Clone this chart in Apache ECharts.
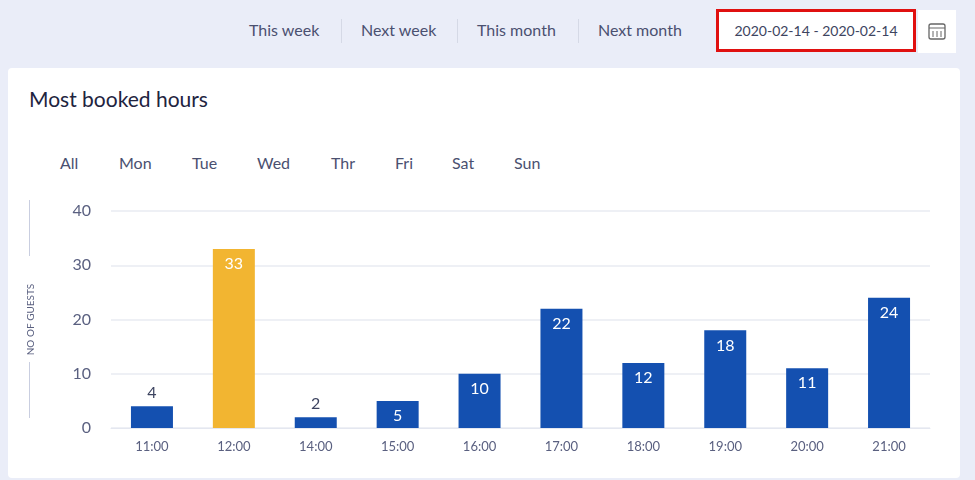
<!DOCTYPE html>
<html>
<head>
<meta charset="utf-8">
<script src="https://cdn.jsdelivr.net/npm/echarts@6/dist/echarts.min.js"></script>
<style>
  body { margin: 0; width: 975px; height: 480px; background: #eaedf8; font-family: Lato, "Noto Sans", sans-serif; color: #3d4460; position: relative; overflow: hidden; }
  .top { position: absolute; top: 20px; font-size: 16px; color: #4a5070; }
  .sep { position: absolute; top: 19px; width: 1px; height: 24px; background: #d5d9e6; }
  .datebox { position: absolute; left: 716px; top: 9px; width: 200px; height: 43px; border: 3px solid #e01010; box-sizing: border-box; background: #fff; font-size: 14px; text-align: center; line-height: 37px; color: #3d4460; }
  .cal { position: absolute; left: 918px; top: 10px; width: 38px; height: 43px; background: #fff; }
  .card { position: absolute; left: 8px; top: 68px; width: 952px; height: 410px; background: #fff; border-radius: 4px; }
  .title { position: absolute; left: 29px; top: 86px; font-size: 21px; color: #1e2440; }
  .day { position: absolute; top: 153px; font-size: 16px; color: #4a5070; }
  .vline { position: absolute; left: 29px; width: 1px; background: #c9cee0; }
  #chart { position: absolute; left: 0; top: 190px; width: 975px; height: 280px; }
</style>
</head>
<body>
<div class="top" style="left:249px">This week</div>
<div class="sep" style="left:341px"></div>
<div class="top" style="left:361px">Next week</div>
<div class="sep" style="left:457px"></div>
<div class="top" style="left:477px">This month</div>
<div class="sep" style="left:578px"></div>
<div class="top" style="left:598px">Next month</div>
<div class="datebox">2020-02-14 - 2020-02-14</div>
<div class="cal"><svg width="38" height="43"><rect x="11" y="14" width="16" height="15" rx="2" fill="none" stroke="#666" stroke-width="1.3"/><line x1="11" y1="18" x2="27" y2="18" stroke="#666"/><line x1="15" y1="21" x2="15" y2="27" stroke="#666"/><line x1="19" y1="21" x2="19" y2="27" stroke="#666"/><line x1="23" y1="21" x2="23" y2="27" stroke="#666"/></svg></div>
<div class="card"></div>
<div class="title">Most booked hours</div>
<div class="day" style="left:60px">All</div>
<div class="day" style="left:119px">Mon</div>
<div class="day" style="left:192px">Tue</div>
<div class="day" style="left:257px">Wed</div>
<div class="day" style="left:331px">Thr</div>
<div class="day" style="left:395px">Fri</div>
<div class="day" style="left:452px">Sat</div>
<div class="day" style="left:514px">Sun</div>
<div class="vline" style="top:200px;height:56px"></div>
<div class="vline" style="top:362px;height:56px"></div>
<div id="chart"></div>
<script>
const hours = ['11:00', '12:00', '14:00', '15:00', '16:00', '17:00', '18:00', '19:00', '20:00', '21:00'];
const guests = [4, 33, 2, 5, 10, 22, 12, 18, 11, 24];
const highlightIndex = 1;
const yTicks = { min: 0, max: 40, interval: 10 };

const chart = echarts.init(document.getElementById('chart'));
chart.setOption({
    animation: false,
    grid: { left: 111, right: 45, top: 21, bottom: 42 },
    xAxis: {
        type: 'category',
        data: hours,
        axisLine: { show: true, lineStyle: { color: '#e4e7f0' } },
        axisTick: { show: false },
        axisLabel: { color: '#5a6080', fontSize: 13, margin: 12, fontFamily: 'Lato' }
    },
    yAxis: {
        type: 'value',
        min: yTicks.min, max: yTicks.max, interval: yTicks.interval,
        name: 'NO OF GUESTS',
        nameLocation: 'middle',
        nameGap: 75,
        nameTextStyle: { color: '#5a6080', fontSize: 10, fontFamily: 'Lato' },
        axisLabel: { color: '#5a6080', fontSize: 16, margin: 20, fontFamily: 'Lato' },
        splitLine: { lineStyle: { color: '#e8ebf2', width: 1.5 } }
    },
    series: [{
        type: 'bar',
        barWidth: 42,
        data: guests.map((v, i) => ({
            value: v,
            itemStyle: { color: i === highlightIndex ? '#f2b531' : '#1450b0' },
            label: v < 5
                ? { position: 'top', color: '#3d4460' }
                : { position: 'insideTop', color: '#fff', distance: 7 }
        })),
        label: { show: true, fontSize: 16, fontFamily: 'Lato' }
    }]
});
</script>
</body>
</html>
